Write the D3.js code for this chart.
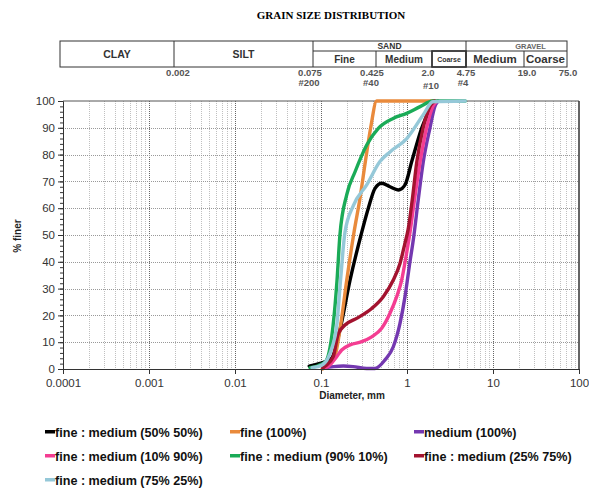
<!DOCTYPE html>
<html>
<head>
<meta charset="utf-8">
<script src="https://cdn.jsdelivr.net/npm/d3@7"></script>
<style>
  body { margin: 0; background: #fff; }
  text { font-family: "Liberation Sans", Arial, sans-serif; }
</style>
</head>
<body>
<svg class="gsd" width="589" height="488"></svg>
<script>
// series: [diameter mm, % finer]
const mix50_50 = [[0.073,1.1],[0.097,2.1],[0.133,4],[0.166,14.6],[0.217,33],[0.292,50],[0.355,60],[0.425,67.4],[0.508,69.3],[0.634,68],[0.792,66.8],[0.948,68.7],[1.135,77.4],[1.48,89.8],[1.85,97.3],[2.0,100]]
const fine100 = [[0.103,0],[0.12,1],[0.145,4.6],[0.166,14.6],[0.199,33],[0.242,51],[0.285,64],[0.33,78],[0.378,90],[0.444,100],[2.0,100]]
const medium100 = [[0.1055,0.3],[0.14,0.9],[0.182,1.1],[0.236,0.9],[0.34,0.2],[0.425,0.2],[0.555,3.4],[0.693,8.3],[0.829,17],[0.948,27],[1.06,38],[1.205,50],[1.35,63],[1.54,77],[1.85,90],[2.11,98],[2.3,100]]
const mix10_90 = [[0.11,0.3],[0.1216,1],[0.1522,4.6],[0.174,7.1],[0.2175,9],[0.2974,10.2],[0.3886,12],[0.508,15.2],[0.634,20.8],[0.759,27],[0.867,33.2],[0.973,41.9],[1.084,51],[1.22,63],[1.416,77],[1.69,90],[2.0,98],[2.25,100]]
const mix90_10 = [[0.0745,0.5],[0.0923,1.2],[0.1143,3],[0.1273,8],[0.1379,16],[0.1535,33],[0.166,50],[0.199,65],[0.249,73.6],[0.34,83.6],[0.464,89.8],[0.69,93.5],[0.99,95.4],[1.42,97.9],[2.0,100],[4.75,100]]
const mix25_75 = [[0.105,0.3],[0.1113,1],[0.139,4.6],[0.158,13],[0.19,16.4],[0.26,18.9],[0.3886,22.6],[0.53,27],[0.693,33.2],[0.829,39.4],[0.948,47],[1.03,52],[1.15,63],[1.296,77],[1.54,90],[1.85,98],[2.1,100]]
const mix75_25 = [[0.0786,0.5],[0.1027,1.5],[0.1206,4],[0.1343,8],[0.1523,16],[0.1686,33],[0.19,51],[0.2377,61],[0.34,68.7],[0.4846,77.4],[0.634,81],[0.9946,86],[1.54,94.8],[2.0,99.7],[4.75,100]]

const seriesNames = ['fine : medium (50% 50%)', 'fine (100%)', 'medium (100%)',
  'fine : medium (10% 90%)', 'fine : medium (90% 10%)', 'fine : medium (25% 75%)',
  'fine : medium (75% 25%)']
const seriesData = [mix50_50, fine100, medium100, mix10_90, mix90_10, mix25_75, mix75_25]
const seriesColors = ['#000000', '#e98a3c', '#7438b0', '#f43d92', '#1aab57', '#a3132f', '#95c8d8']

const xTicks = [0.0001, 0.001, 0.01, 0.1, 1, 10, 100]
const xTickLabels = ['0.0001', '0.001', '0.01', '0.1', '1', '10', '100']
const yTicks = [0, 10, 20, 30, 40, 50, 60, 70, 80, 90, 100]

// header table text
const soilNames = ['CLAY', 'SILT']
const groupNames = ['SAND', 'GRAVEL']
const subNames = ['Fine', 'Medium', 'Coarse', 'Medium', 'Coarse']
const sieveSizes = ['0.002', '0.075', '0.425', '2.0', '4.75', '19.0', '75.0']
const sieveNumbers = ['#200', '#40', '#10', '#4']

// header table layout (independent of the log axis)
const tbl = { left: 60, top: 41, mid: 51, bottom: 67, right: 567 }
const soilEdges = [60, 174, 313]
const groupEdges = [313, 466, 567]
const subEdges = [313, 376, 432, 466, 524, 567]
const subFont = [10, 10, 7, 11.5, 11.5]
const sizeX = [178, 310, 372, 428, 466, 527, 568]
const numberX = [309, 371, 431, 463]
const numberY = [83, 83, 86, 83]

let margin = { top: 101, right: 10, bottom: 119, left: 63 }
let width = 589 - margin.left - margin.right
let plotBottom = 369

let svg = d3.select('.gsd')

let x = d3.scaleLog().domain([0.0001, 100]).range([margin.left, margin.left + width])
let y = d3.scaleLinear().domain([0, 100]).range([plotBottom, margin.top])

// title
svg.append('text')
    .attr('x', 331).attr('y', 19)
    .attr('text-anchor', 'middle')
    .attr('font-size', 11)
    .attr('font-weight', 'bold')
    .style('font-family', '"Liberation Serif", "Times New Roman", serif')
    .text('GRAIN SIZE DISTRIBUTION')

// header table
let tb = svg.append('g').attr('stroke', '#333').attr('stroke-width', 1).attr('fill', 'none')
tb.append('rect').attr('x', tbl.left).attr('y', tbl.top)
    .attr('width', tbl.right - tbl.left).attr('height', tbl.bottom - tbl.top)
tb.selectAll('.vsoil').data(soilEdges.slice(1)).enter().append('line')
    .attr('x1', d => d).attr('x2', d => d).attr('y1', tbl.top).attr('y2', tbl.bottom)
tb.selectAll('.vgroup').data(groupEdges.slice(1, -1)).enter().append('line')
    .attr('x1', d => d).attr('x2', d => d).attr('y1', tbl.top).attr('y2', tbl.bottom)
tb.append('line').attr('x1', groupEdges[0]).attr('x2', tbl.right).attr('y1', tbl.mid).attr('y2', tbl.mid)
tb.selectAll('.vsub').data(subEdges.slice(1, -1)).enter().append('line')
    .attr('x1', d => d).attr('x2', d => d).attr('y1', tbl.mid).attr('y2', tbl.bottom)
tb.append('rect').attr('x', subEdges[2]).attr('y', tbl.mid)
    .attr('width', subEdges[3] - subEdges[2]).attr('height', tbl.bottom - tbl.mid)
    .attr('stroke-width', 1.6)

svg.selectAll('.soil').data(soilNames).enter().append('text')
    .attr('x', (d, i) => (soilEdges[i] + soilEdges[i + 1]) / 2)
    .attr('y', 58)
    .attr('text-anchor', 'middle').attr('font-size', 10.5).attr('font-weight', 'bold')
    .attr('fill', '#333')
    .text(d => d)

svg.selectAll('.group').data(groupNames).enter().append('text')
    .attr('x', (d, i) => (groupEdges[i] + groupEdges[i + 1]) / 2 + (i ? 14 : 0))
    .attr('y', 49)
    .attr('text-anchor', 'middle').attr('font-size', (d, i) => i ? 7.5 : 8.5).attr('font-weight', 'bold')
    .attr('fill', (d, i) => i ? '#666' : '#333')
    .text(d => d)

svg.selectAll('.sub').data(subNames).enter().append('text')
    .attr('x', (d, i) => (subEdges[i] + subEdges[i + 1]) / 2)
    .attr('y', (d, i) => i === 2 ? 62 : 63)
    .attr('text-anchor', 'middle').attr('font-size', (d, i) => subFont[i]).attr('font-weight', 'bold')
    .attr('fill', '#333')
    .text(d => d)

svg.selectAll('.size').data(sieveSizes).enter().append('text')
    .attr('x', (d, i) => sizeX[i]).attr('y', 76)
    .attr('text-anchor', 'middle').attr('font-size', 9.5).attr('font-weight', 'bold')
    .attr('fill', '#555')
    .text(d => d)

svg.selectAll('.sieve').data(sieveNumbers).enter().append('text')
    .attr('x', (d, i) => numberX[i]).attr('y', (d, i) => numberY[i] + 3)
    .attr('text-anchor', 'middle').attr('font-size', 9.5).attr('font-weight', 'bold')
    .attr('fill', '#555')
    .text(d => d)

// grid
let minorVals = []
d3.range(-4, 2).forEach(k => d3.range(2, 10).forEach(m => minorVals.push(m * Math.pow(10, k))))

let grid = svg.append('g').attr('stroke-dasharray', '1,1').attr('stroke-width', 1)
grid.selectAll('.gminor').data(minorVals).enter().append('line')
    .attr('x1', d => Math.round(x(d)) + 0.5).attr('x2', d => Math.round(x(d)) + 0.5)
    .attr('y1', y(100)).attr('y2', y(0))
    .attr('stroke', '#c0c0c0')
grid.selectAll('.gmajor').data(xTicks.slice(1, -1)).enter().append('line')
    .attr('x1', d => Math.round(x(d)) + 0.5).attr('x2', d => Math.round(x(d)) + 0.5)
    .attr('y1', y(100)).attr('y2', y(0))
    .attr('stroke', '#666')
grid.selectAll('.gh').data(yTicks.slice(1, -1)).enter().append('line')
    .attr('x1', x(0.0001)).attr('x2', x(100))
    .attr('y1', d => Math.round(y(d)) + 0.5).attr('y2', d => Math.round(y(d)) + 0.5)
    .attr('stroke', '#999')

// frame top / right
svg.append('line').attr('x1', x(0.0001)).attr('x2', x(100)).attr('y1', y(100)).attr('y2', y(100))
    .attr('stroke', '#555')
svg.append('line').attr('x1', x(100)).attr('x2', x(100)).attr('y1', y(100)).attr('y2', y(0))
    .attr('stroke', '#333').attr('stroke-width', 1.5)

// curves
let line = d3.line()
    .x(d => x(d[0]))
    .y(d => y(d[1]))
    .curve(d3.curveMonotoneX)

svg.append('g').selectAll('.curve')
    .data(seriesData)
    .enter()
    .append('path')
    .attr('class', 'curve')
    .attr('d', d => line(d))
    .attr('fill', 'none')
    .attr('stroke', (d, i) => seriesColors[i])
    .attr('stroke-width', 3.4)
    .attr('stroke-linejoin', 'round')
    .attr('stroke-linecap', 'round')

// axes
let yAxis = svg.append('g').attr('class', 'axis y')
    .attr('transform', 'translate(' + x(0.0001) + ',0)')
    .call(d3.axisLeft(y).tickValues(yTicks).tickSize(5).tickPadding(3))
svg.append('g').attr('class', 'axis y minor')
    .attr('transform', 'translate(' + x(0.0001) + ',0)')
    .call(d3.axisLeft(y).tickValues(d3.range(0, 101, 2)).tickSize(3).tickFormat(''))
    .select('.domain').remove()

let xAxis = svg.append('g').attr('class', 'axis x')
    .attr('transform', 'translate(0,' + plotBottom + ')')
    .call(d3.axisBottom(x).tickValues(xTicks).tickSize(5).tickPadding(5)
      .tickFormat((d, i) => xTickLabels[i]))

svg.selectAll('.axis text').attr('font-size', 11.5).attr('fill', '#333')
    .style('font-family', '"Liberation Sans", Arial, sans-serif')
svg.selectAll('.axis path, .axis line').attr('stroke', '#333')

svg.append('text')
    .attr('x', 352).attr('y', 399)
    .attr('text-anchor', 'middle').attr('font-size', 10).attr('font-weight', 'bold')
    .attr('fill', '#222')
    .text('Diameter, mm')

svg.append('text')
    .attr('transform', 'translate(21,236) rotate(-90)')
    .attr('text-anchor', 'middle').attr('font-size', 10).attr('font-weight', 'bold')
    .attr('fill', '#222')
    .text('% finer')

// legend
const colX = [45, 230, 414]
const rowY = [432, 456, 480]
let legend = svg.selectAll('.legend')
    .data(seriesNames)
    .enter()
    .append('g')
    .attr('class', 'legend')
    .attr('transform', (d, i) => 'translate(' + colX[i % 3] + ',' + rowY[Math.floor(i / 3)] + ')')

legend.append('rect')
    .attr('x', 0).attr('y', -2).attr('width', 10).attr('height', 3.5)
    .attr('fill', (d, i) => seriesColors[i])

legend.append('text')
    .attr('x', 10).attr('y', 4.5)
    .attr('font-size', 12.6).attr('font-weight', 'bold')
    .attr('fill', '#111')
    .text(d => d)
</script>
</body>
</html>
